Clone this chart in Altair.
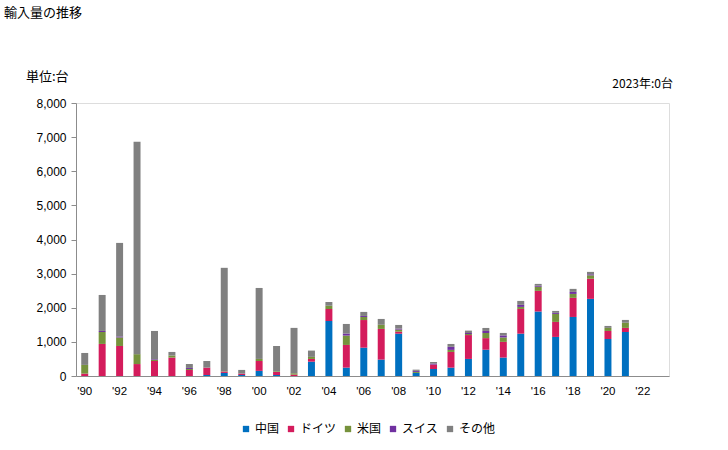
import altair as alt
import pandas as pd

years = list(range(1990, 2024))
china   = [0, 0, 0, 0, 0, 0, 0, 30, 90, 30, 150, 30, 0, 420, 1610, 245, 830, 480, 1240, 90, 205, 245, 500, 770, 540, 1240, 1890, 1145, 1730, 2260, 1085, 1290, 0, 0]
germany = [70, 940, 880, 350, 440, 540, 176, 215, 40, 40, 290, 90, 40, 80, 350, 665, 810, 900, 60, 0, 130, 460, 700, 340, 460, 725, 605, 440, 560, 590, 235, 120, 0, 0]
usa     = [255, 350, 250, 290, 30, 60, 30, 0, 10, 0, 60, 20, 40, 60, 100, 275, 90, 120, 60, 30, 0, 60, 30, 150, 130, 60, 120, 235, 115, 100, 90, 150, 0, 0]
swiss   = [0, 30, 30, 0, 20, 0, 30, 0, 0, 0, 0, 0, 0, 0, 0, 60, 30, 0, 30, 30, 30, 90, 30, 60, 60, 60, 30, 30, 60, 30, 0, 0, 0, 0]
other   = [350, 1055, 2740, 6225, 830, 105, 115, 195, 3030, 108, 2080, 740, 1330, 185, 110, 280, 118, 172, 106, 36, 46, 84, 70, 88, 72, 115, 54, 57, 88, 71, 57, 83, 0, 0]

series_names = ["中国", "ドイツ", "米国", "スイス", "その他"]
series_colors = ["#0070c0", "#d41c5c", "#76923c", "#7030a0", "#808080"]
y_ticks = [0, 1000, 2000, 3000, 4000, 5000, 6000, 7000, 8000]

rows = []
for i, yr in enumerate(years):
    for k, (name, vals) in enumerate(zip(series_names, [china, germany, usa, swiss, other])):
        if vals[i] > 0:
            rows.append({"year": str(yr), "country": name, "value": vals[i], "k": k})
df = pd.DataFrame(rows)

W, H = 593, 273
FONT = "Noto Sans CJK JP"
NUMFONT = "Liberation Sans"

bars = alt.Chart(df).mark_bar().encode(
    x=alt.X(
        "year:N",
        scale=alt.Scale(domain=[str(y) for y in years], paddingInner=0.6, paddingOuter=0.3),
        axis=alt.Axis(
            title=None, labelAngle=0, ticks=False, labelPadding=9,
            labelExpr="toNumber(datum.value) % 2 == 0 ? \"'\" + substring(datum.value, 2, 4) : ''",
            domainColor="#8c8c8c", labelColor="#000000", labelFontSize=11.5, labelFont=NUMFONT,
        ),
    ),
    y=alt.Y(
        "value:Q", stack="zero",
        scale=alt.Scale(domain=[0, 8000], nice=False),
        axis=alt.Axis(
            title=None, format=",d", values=y_ticks, tickSize=5, labelPadding=5,
            domainColor="#8c8c8c", tickColor="#8c8c8c", labelColor="#000000",
            labelFontSize=12, labelFont=NUMFONT, grid=False,
        ),
    ),
    color=alt.Color(
        "country:N",
        scale=alt.Scale(domain=series_names, range=series_colors),
        legend=alt.Legend(
            title=None, orient="none", direction="horizontal",
            legendX=164, legendY=320, symbolType="square", symbolSize=40,
            symbolStrokeWidth=0, labelFontSize=12, labelFont=FONT, labelColor="#000000",
            columnPadding=5, labelOffset=3, padding=0,
        ),
    ),
    order=alt.Order("k:Q", sort="ascending"),
)

title = alt.Chart(pd.DataFrame({"a": [0]})).mark_text(
    text="輸入量の推移", align="left", baseline="middle", font=FONT, fontSize=13, color="#000000"
).encode(x=alt.value(-72), y=alt.value(-90))

unit = alt.Chart(pd.DataFrame({"a": [0]})).mark_text(
    text="単位:台", align="left", baseline="middle", font=FONT, fontSize=13, color="#000000"
).encode(x=alt.value(-50), y=alt.value(-26))

note = alt.Chart(pd.DataFrame({"a": [0]})).mark_text(
    text="2023年:0台", align="right", baseline="middle", font=FONT, fontSize=12, color="#000000"
).encode(x=alt.value(597), y=alt.value(-19))

chart = alt.layer(bars, title, unit, note).properties(
    width=W, height=H,
    autosize=alt.AutoSizeParams(type="none"),
    padding={"left": 76, "top": 103, "right": 59, "bottom": 74},
).configure_view(stroke="#c4bca0", strokeWidth=1).configure(background="#ffffff")

chart.save("out.html", embed_options={"renderer": "svg", "actions": False})
